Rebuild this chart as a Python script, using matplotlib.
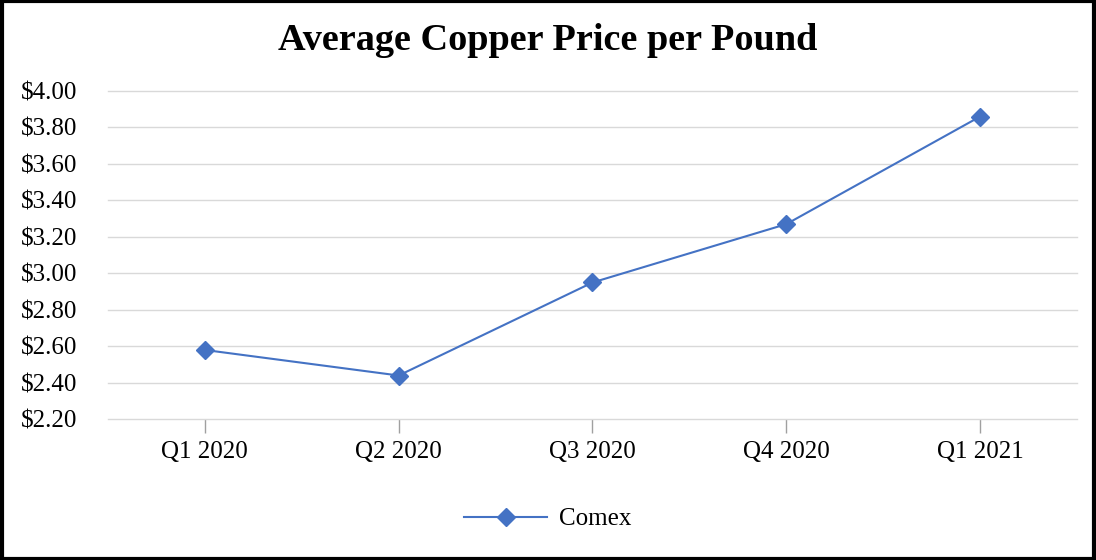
import matplotlib.pyplot as plt
from matplotlib.patches import Rectangle

quarters = ["Q1 2020", "Q2 2020", "Q3 2020", "Q4 2020", "Q1 2021"]
comex = [2.58, 2.44, 2.95, 3.27, 3.86]
y_ticks = [2.20, 2.40, 2.60, 2.80, 3.00, 3.20, 3.40, 3.60, 3.80, 4.00]

plt.rcParams["font.family"] = ["Liberation Serif", "DejaVu Serif"]

fig = plt.figure(figsize=(10.96, 5.6), dpi=100)
ax = fig.add_axes([0.0985, 0.2513, 0.8842, 0.5862])

x = range(len(quarters))
ax.plot(x, comex, color="#4472C4", linewidth=1.5, marker="D", markersize=9,
        label="Comex")

ax.set_xlim(-0.5, len(quarters) - 0.5)
ax.set_ylim(2.20, 4.00)
ax.set_yticks(y_ticks)
ax.set_yticklabels([f"${v:.2f}" for v in y_ticks])
ax.set_xticks(list(x))
ax.set_xticklabels(quarters)
ax.grid(axis="y", color="#d9d9d9", linewidth=1)
for g in ax.get_ygridlines():
    g.set_clip_on(False)
ax.set_axisbelow(True)
for s in ax.spines.values():
    s.set_visible(False)
ax.tick_params(axis="y", length=0, labelsize=18, pad=63)
ax.tick_params(axis="x", length=10, color="#a0a0a0", width=1, labelsize=18, pad=6)
for lbl in ax.get_yticklabels():
    lbl.set_horizontalalignment("left")

fig.text(0.5, 0.928, "Average Copper Price per Pound", ha="center", va="center",
         fontsize=27.5, fontweight="bold")

fig.legend(loc="center", bbox_to_anchor=(0.5, 0.073), frameon=False, fontsize=18,
           handlelength=3.3, handletextpad=0.5)

fig.patches.append(Rectangle((0.0015, 0.0025), 0.997, 0.995, transform=fig.transFigure,
                             fill=False, edgecolor="black", linewidth=3))

fig.savefig("out.png", dpi=100)
